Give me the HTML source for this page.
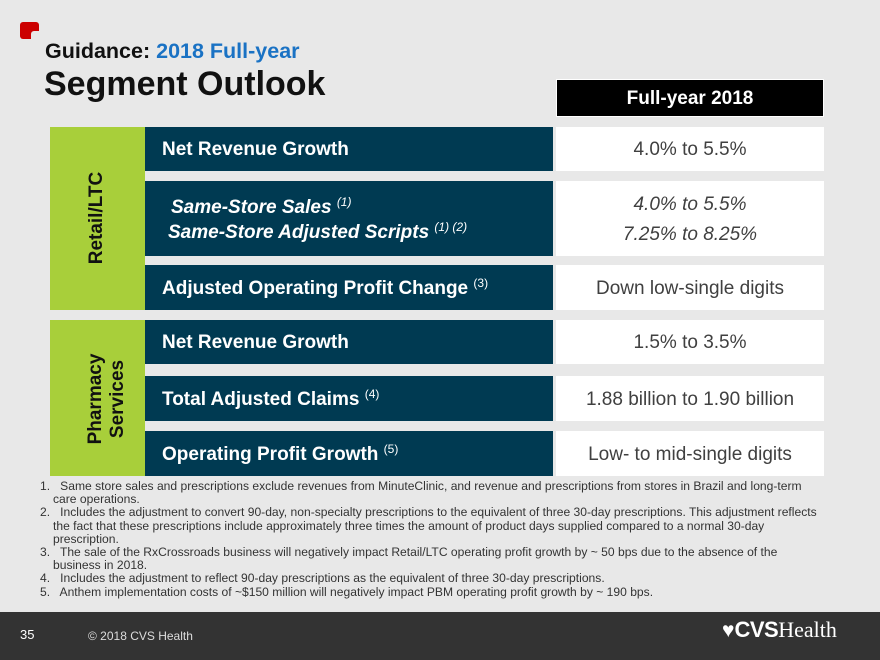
<!DOCTYPE html>
<html><head><meta charset="utf-8"><style>
*{margin:0;padding:0;box-sizing:border-box}
body{width:880px;height:660px;background:#e8e8e8;position:relative;overflow:hidden;font-family:"Liberation Sans",Arial,sans-serif}
.a{position:absolute}
.dk{background:#003a52;color:#fff;font-weight:bold;font-size:19px;padding-left:17px;white-space:nowrap}
.wt{background:#fff;color:#404040;font-size:19px;text-align:center;white-space:nowrap}
.gr{background:#a8cf3a}
.vt{position:absolute;transform:rotate(-90deg);font-weight:bold;font-size:19px;color:#111;white-space:nowrap;text-align:center;line-height:22px}
sup{font-size:12px;vertical-align:7px;font-weight:normal;line-height:0}
.fn{font-size:12.1px;color:#333;line-height:13.2px}
.fn div{padding-left:22px;text-indent:-13px}
</style></head><body>
<div class="a" style="left:20px;top:22px;width:19px;height:17px;background:#cc0000;border-radius:3px"></div>
<div class="a" style="left:31px;top:31px;width:9px;height:9px;background:#e8e8e8;border-top-left-radius:3px"></div>
<div class="a" style="left:45px;top:39px;font-size:21.5px;font-weight:bold;color:#111">Guidance: <span style="color:#1a72c4">2018 Full-year</span></div>
<div class="a" style="left:44px;top:65px;font-size:34px;font-weight:bold;color:#111">Segment Outlook</div>
<div class="a" style="left:556px;top:79px;width:268px;height:38px;line-height:38px;background:#000;color:#fff;font-weight:bold;font-size:19px;text-align:center;border:1px solid #fff">Full-year 2018</div>

<div class="a gr" style="left:50px;top:127px;width:95px;height:183px"></div>
<div class="vt" style="left:37px;top:207px;width:120px">Retail/LTC</div>
<div class="a gr" style="left:50px;top:320px;width:95px;height:156px"></div>
<div class="vt" style="left:47px;top:377px;width:120px">Pharmacy<br>Services</div>

<div class="a dk" style="left:145px;top:127px;width:408px;height:44px;line-height:46px">Net Revenue Growth</div>
<div class="a wt" style="left:556px;top:127px;width:268px;height:44px;line-height:46px">4.0% to 5.5%</div>
<div class="a dk" style="left:145px;top:181px;width:408px;height:75px;font-style:italic;padding-left:26px;line-height:25px;padding-top:14px">Same-Store Sales <sup>(1)</sup><br><span style="margin-left:-3px">Same-Store Adjusted Scripts <sup>(1) (2)</sup></span></div>
<div class="a wt" style="left:556px;top:181px;width:268px;height:75px;font-style:italic;line-height:30px;padding-top:9px">4.0% to 5.5%<br>7.25% to 8.25%</div>
<div class="a dk" style="left:145px;top:265px;width:408px;height:45px;line-height:47px">Adjusted Operating Profit Change <sup>(3)</sup></div>
<div class="a wt" style="left:556px;top:265px;width:268px;height:45px;line-height:47px">Down low-single digits</div>
<div class="a dk" style="left:145px;top:320px;width:408px;height:44px;line-height:46px">Net Revenue Growth</div>
<div class="a wt" style="left:556px;top:320px;width:268px;height:44px;line-height:46px">1.5% to 3.5%</div>
<div class="a dk" style="left:145px;top:376px;width:408px;height:45px;line-height:47px">Total Adjusted Claims <sup>(4)</sup></div>
<div class="a wt" style="left:556px;top:376px;width:268px;height:45px;line-height:47px">1.88 billion to 1.90 billion</div>
<div class="a dk" style="left:145px;top:431px;width:408px;height:45px;line-height:47px">Operating Profit Growth <sup>(5)</sup></div>
<div class="a wt" style="left:556px;top:431px;width:268px;height:45px;line-height:47px">Low- to mid-single digits</div>

<div class="a fn" style="left:31px;top:480px;width:796px">
<div>1.&nbsp;&nbsp; Same store sales and prescriptions exclude revenues from MinuteClinic, and revenue and prescriptions from stores in Brazil and long-term care operations.</div>
<div>2.&nbsp;&nbsp; Includes the adjustment to convert 90-day, non-specialty prescriptions to the equivalent of three 30-day prescriptions. This adjustment reflects the fact that these prescriptions include approximately three times the amount of product days supplied compared to a normal 30-day prescription.</div>
<div>3.&nbsp;&nbsp; The sale of the RxCrossroads business will negatively impact Retail/LTC operating profit growth by ~ 50 bps due to the absence of the business in 2018.</div>
<div>4.&nbsp;&nbsp; Includes the adjustment to reflect 90-day prescriptions as the equivalent of three 30-day prescriptions.</div>
<div>5.&nbsp;&nbsp; Anthem implementation costs of ~$150 million will negatively impact PBM operating profit growth by ~ 190 bps.</div>
</div>

<div class="a" style="left:0;top:612px;width:880px;height:48px;background:#333"></div>
<div class="a" style="left:20px;top:627px;color:#fff;font-size:13px">35</div>
<div class="a" style="left:88px;top:629px;color:#ddd;font-size:12px">© 2018 CVS Health</div>
<div class="a" style="left:722px;top:617px;color:#fff;font-size:22px;white-space:nowrap"><span style="font-size:21px">♥</span><b style="font-weight:900;letter-spacing:-0.5px">CVS</b><span style="font-family:'Liberation Serif',serif">Health</span></div>
</body></html>
